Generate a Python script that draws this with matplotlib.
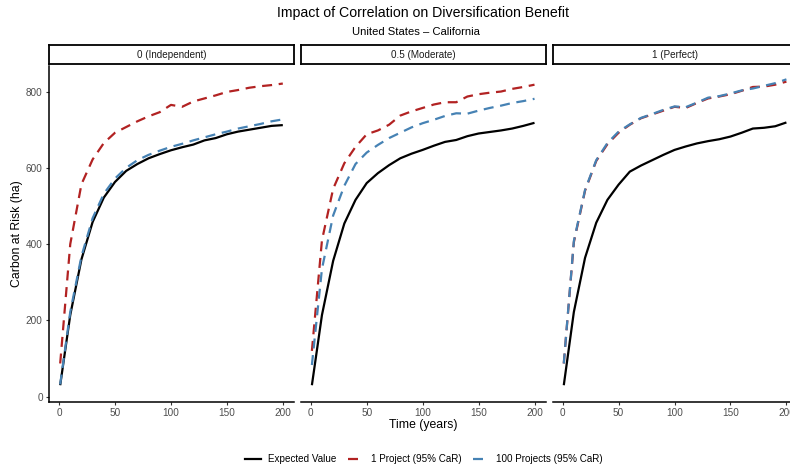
import numpy as np
import matplotlib.pyplot as plt
from matplotlib.lines import Line2D

plt.rcParams['font.family'] = ['Liberation Sans', 'DejaVu Sans']

years = [1, 10, 20, 30, 40, 50, 60, 70, 80, 90, 100,
         110, 120, 130, 140, 150, 160, 170, 180, 190, 200]

panels = ["0 (Independent)", "0.5 (Moderate)", "1 (Perfect)"]
series_names = ["Expected Value", "1 Project (95% CaR)", "100 Projects (95% CaR)"]

# expected value per correlation level
ev_indep = [30, 214, 360, 458, 522, 563, 592, 610, 625, 636, 646,
            654, 661, 672, 678, 688, 695, 700, 705, 710, 712]
ev_moder = [30, 214, 356, 454, 516, 560, 586, 607, 625, 637, 647,
            658, 668, 673, 683, 690, 694, 698, 703, 710, 718]
ev_perf = [30, 222, 364, 456, 516, 556, 590, 606, 620, 634, 647,
           656, 664, 670, 675, 682, 692, 703, 705, 709, 719]

# 95% CaR, single project
one_indep = [87, 400, 557, 622, 665, 692, 707, 722, 735, 746, 765,
             760, 774, 782, 790, 799, 804, 810, 814, 817, 821]
one_moder = [120, 410, 545, 612, 655, 688, 698, 713, 737, 748, 757,
             766, 772, 772, 787, 793, 797, 800, 807, 812, 818]
one_perf = [87, 405, 540, 618, 662, 692, 713, 730, 740, 750, 760,
            757, 770, 782, 787, 793, 802, 812, 813, 818, 826]

# 95% CaR, portfolio of 100 projects
hund_indep = [32, 222, 368, 468, 532, 572, 600, 620, 634, 645, 655,
              663, 672, 680, 688, 695, 703, 709, 715, 722, 727]
hund_moder = [83, 335, 475, 553, 610, 640, 660, 678, 692, 706, 717,
              726, 736, 743, 742, 750, 757, 763, 770, 775, 781]
hund_perf = [87, 408, 542, 620, 665, 695, 714, 731, 741, 752, 761,
             759, 771, 784, 788, 795, 803, 808, 815, 822, 832]

ev = [ev_indep, ev_moder, ev_perf]
one = [one_indep, one_moder, one_perf]
hund = [hund_indep, hund_moder, hund_perf]

colors = ["black", "#B22222", "#4682B4"]

W, H = 790, 468
fig = plt.figure(figsize=(W / 100, H / 100), dpi=100)

def fx(px):
    return px / W

def fy(py):
    return 1 - py / H

panel_left = [49, 300.7, 552.6]
panel_w = 245
top, bottom = 66, 402
gray = "#4D4D4D"

for i in range(3):
    ax = fig.add_axes([fx(panel_left[i]), fy(bottom), fx(panel_w), (bottom - top) / H])
    ax.plot(years, ev[i], color=colors[0], lw=1.6, solid_capstyle='butt')
    ax.plot(years, one[i], color=colors[1], lw=1.6, dashes=(4.5, 3))
    ax.plot(years, hund[i], color=colors[2], lw=1.6, dashes=(4.5, 3))
    ax.set_xlim(-9, 210)
    ax.set_ylim(-14, 867)
    ax.set_xticks([0, 50, 100, 150, 200])
    ax.set_yticks([0, 200, 400, 600, 800])
    for s in ['top', 'right']:
        ax.spines[s].set_visible(False)
    ax.spines['bottom'].set_linewidth(1.1)
    ax.spines['left'].set_linewidth(1.1)
    ax.tick_params(labelsize=7.2, labelcolor=gray, color='#333333',
                   length=2.5, width=0.8, pad=2)
    if i > 0:
        ax.spines['left'].set_visible(False)
        ax.tick_params(axis='y', left=False, labelleft=False)

    # facet strip
    sax = fig.add_axes([fx(panel_left[i]), fy(64), fx(panel_w), 19 / H])
    sax.set_xticks([])
    sax.set_yticks([])
    for s in sax.spines.values():
        s.set_linewidth(1.3)
        s.set_color('black')
    sax.text(0.5, 0.5, panels[i], ha='center', va='center', fontsize=7.1,
             color='#1A1A1A', transform=sax.transAxes)

fig.text(fx(423), fy(13), "Impact of Correlation on Diversification Benefit",
         ha='center', va='center', fontsize=10.2)
fig.text(fx(416), fy(32), "United States \u2013 California",
         ha='center', va='center', fontsize=8.1)
fig.text(fx(423), fy(425), "Time (years)", ha='center', va='center', fontsize=8.8)
fig.text(fx(17), fy(234), "Carbon at Risk (ha)", ha='center', va='center',
         rotation=90, fontsize=8.8)

handles = [Line2D([], [], color=colors[0], lw=1.6),
           Line2D([], [], color=colors[1], lw=1.6, dashes=(4.5, 3)),
           Line2D([], [], color=colors[2], lw=1.6, dashes=(4.5, 3))]
fig.legend(handles, series_names, loc='center', bbox_to_anchor=(fx(424), fy(459)),
           ncol=3, frameon=False, fontsize=7.1, handlelength=1.6,
           columnspacing=1.2, handletextpad=0.7)

fig.savefig("out.png", dpi=100)
